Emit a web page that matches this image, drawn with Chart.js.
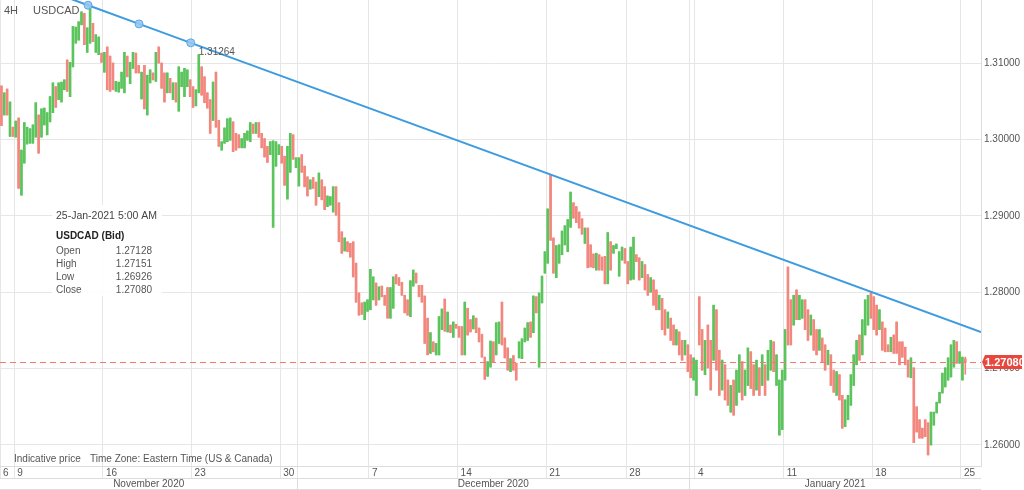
<!DOCTYPE html>
<html>
<head>
<meta charset="utf-8">
<script src="https://cdn.jsdelivr.net/npm/chart.js@4.4.0/dist/chart.umd.min.js"></script>
<style>
  html, body { margin: 0; padding: 0; background: #fff; }
  #wrap { width: 1024px; height: 490px; }
</style>
</head>
<body>
<div id="wrap"><canvas id="chart" width="1024" height="490"></canvas></div>
<script>
// USDCAD 4H candles (one entry per bar, oldest first)
const opens = [
  // Nov 6
  1.3070, 1.3032, 1.3066, 1.3004, 1.3016,
  // Nov 9
  1.3003, 1.3028, 1.2927, 1.2969, 1.2994, 1.2995, 1.2995, 1.3003, 1.3032, 1.3003,
  1.3019, 1.3006, 1.3023, 1.3035, 1.3069, 1.3052, 1.3049, 1.3065, 1.3104, 1.3056,
  1.3095, 1.3126, 1.3130, 1.3150, 1.3165, 1.3114, 1.3126, 1.3152, 1.3114, 1.3111,
  1.3113,
  // Nov 16
  1.3088, 1.3121, 1.3109, 1.3100, 1.3063, 1.3062, 1.3067, 1.3061, 1.3109, 1.3073,
  1.3093, 1.3113, 1.3097, 1.3053, 1.3097, 1.3032, 1.3074, 1.3087, 1.3076, 1.3121,
  1.3100, 1.3087, 1.3061, 1.3080, 1.3052, 1.3074, 1.3037, 1.3069, 1.3056, 1.3069,
  1.3078,
  // Nov 23
  1.3069, 1.3044, 1.3061, 1.3095, 1.3082, 1.3061, 1.3052, 1.3025, 1.3088, 1.3025,
  1.2986, 1.2995, 1.2997, 1.2999, 1.3023, 1.3008, 1.3006, 1.2989, 1.2989, 1.2999,
  1.2997, 1.3020, 1.3008, 1.3022, 1.3008, 1.3001, 1.2991, 1.2980, 1.2885, 1.2965,
  1.2980,
  // Nov 30
  1.2991, 1.2978, 1.2922, 1.2957, 1.3006, 1.2963, 1.2939, 1.2980, 1.2965, 1.2951,
  1.2935, 1.2950, 1.2944, 1.2925, 1.2947, 1.2938, 1.2912, 1.2914, 1.2905, 1.2938,
  1.2917, 1.2879, 1.2854, 1.2866, 1.2864, 1.2866, 1.2838, 1.2799, 1.2786, 1.2764,
  1.2775,
  // Dec 7
  1.2777, 1.2790, 1.2812, 1.2790, 1.2808, 1.2796, 1.2806, 1.2766, 1.2779, 1.2823,
  1.2819, 1.2813, 1.2796, 1.2790, 1.2768, 1.2808, 1.2825, 1.2809, 1.2809, 1.2795,
  1.2766, 1.2720, 1.2735, 1.2718, 1.2718, 1.2751, 1.2791, 1.2748, 1.2757, 1.2741,
  1.2758,
  // Dec 14
  1.2755, 1.2755, 1.2718, 1.2779, 1.2764, 1.2752, 1.2766, 1.2753, 1.2745, 1.2715,
  1.2690, 1.2702, 1.2735, 1.2718, 1.2733, 1.2787, 1.2740, 1.2727, 1.2696, 1.2717,
  1.2707, 1.2714, 1.2713, 1.2735, 1.2737, 1.2761, 1.2747, 1.2794, 1.2702, 1.2786,
  1.2825,
  // Dec 21
  1.2838, 1.2953, 1.2871, 1.2819, 1.2838, 1.2849, 1.2862, 1.2853, 1.2885, 1.2917,
  1.2912, 1.2905, 1.2896, 1.2864, 1.2884, 1.2862, 1.2850, 1.2829, 1.2849, 1.2846,
  1.2847, 1.2811, 1.2866, 1.2851, 1.2857, 1.2821, 1.2842, 1.2857,
  // Dec 28
  1.2840, 1.2816, 1.2817, 1.2849, 1.2845, 1.2819, 1.2836, 1.2823, 1.2800, 1.2816,
  1.2803, 1.2777, 1.2792, 1.2777, 1.2753, 1.2766, 1.2757, 1.2731, 1.2748, 1.2737,
  1.2718, 1.2731, 1.2718, 1.2685,
  // Jan 4
  1.2665, 1.2794, 1.2751, 1.2692, 1.2757, 1.2737, 1.2711, 1.2777, 1.2724, 1.2672,
  1.2705, 1.2685, 1.2643, 1.2685, 1.2652, 1.2669, 1.2709, 1.2665, 1.2678, 1.2722,
  1.2705, 1.2672, 1.2701, 1.2678, 1.2705, 1.2685, 1.2698, 1.2735, 1.2678, 1.2613,
  1.2620,
  // Jan 11
  1.2685, 1.2833, 1.2790, 1.2757, 1.2803, 1.2764, 1.2766, 1.2790, 1.2777, 1.2744,
  1.2764, 1.2751, 1.2724, 1.2740, 1.2731, 1.2705, 1.2718, 1.2698, 1.2665, 1.2692,
  1.2665, 1.2624, 1.2633, 1.2652, 1.2678, 1.2705, 1.2744, 1.2718, 1.2744, 1.2757,
  1.2799,
  // Jan 18
  1.2794, 1.2783, 1.2751, 1.2761, 1.2753, 1.2731, 1.2722, 1.2744, 1.2761, 1.2735,
  1.2735, 1.2728, 1.2711, 1.2688, 1.2701, 1.2650, 1.2633, 1.2622, 1.2633, 1.2629,
  1.2600, 1.2626, 1.2642, 1.2655, 1.2668, 1.2676, 1.2685, 1.2689, 1.2702, 1.2735,
  1.2707,
  // Jan 25
  1.2685, 1.27128
];

const highs = [
  1.3070, 1.3061, 1.3066, 1.3049, 1.3016,
  1.3024, 1.3028, 1.2986, 1.3022, 1.3016, 1.3014, 1.3019, 1.3048, 1.3032, 1.3040,
  1.3041, 1.3035, 1.3056, 1.3074, 1.3069, 1.3074, 1.3075, 1.3078, 1.3104, 1.3101,
  1.3148, 1.3147, 1.3154, 1.3167, 1.3165, 1.3146, 1.3176, 1.3152, 1.3137, 1.3134,
  1.3113,
  1.3114, 1.3121, 1.3109, 1.3100, 1.3076, 1.3075, 1.3088, 1.3114, 1.3109, 1.3101,
  1.3114, 1.3113, 1.3097, 1.3088, 1.3097, 1.3084, 1.3091, 1.3087, 1.3114, 1.3121,
  1.3100, 1.3087, 1.3087, 1.3080, 1.3074, 1.3074, 1.3095, 1.3088, 1.3093, 1.3091,
  1.3078,
  1.3069, 1.3065, 1.3111, 1.3095, 1.3082, 1.3061, 1.3052, 1.3075, 1.3088, 1.3025,
  1.2997, 1.3015, 1.3027, 1.3028, 1.3023, 1.3008, 1.3006, 1.3001, 1.3008, 1.3011,
  1.3022, 1.3020, 1.3022, 1.3022, 1.3008, 1.3001, 1.2991, 1.2997, 1.2998, 1.2997,
  1.2993,
  1.2991, 1.2978, 1.2991, 1.3008, 1.3006, 1.2976, 1.2976, 1.2980, 1.2965, 1.2951,
  1.2947, 1.2950, 1.2944, 1.2956, 1.2947, 1.2938, 1.2926, 1.2925, 1.2938, 1.2938,
  1.2917, 1.2879, 1.2871, 1.2866, 1.2864, 1.2866, 1.2838, 1.2799, 1.2786, 1.2787,
  1.2790,
  1.2830, 1.2820, 1.2812, 1.2807, 1.2808, 1.2796, 1.2806, 1.2806, 1.2820, 1.2823,
  1.2819, 1.2813, 1.2796, 1.2790, 1.2815, 1.2829, 1.2825, 1.2809, 1.2809, 1.2795,
  1.2766, 1.2747, 1.2735, 1.2733, 1.2768, 1.2778, 1.2791, 1.2774, 1.2757, 1.2761,
  1.2758,
  1.2755, 1.2755, 1.2787, 1.2779, 1.2764, 1.2769, 1.2766, 1.2753, 1.2745, 1.2715,
  1.2709, 1.2736, 1.2735, 1.2760, 1.2761, 1.2787, 1.2740, 1.2727, 1.2713, 1.2717,
  1.2707, 1.2735, 1.2739, 1.2753, 1.2760, 1.2761, 1.2795, 1.2794, 1.2799, 1.2821,
  1.2853,
  1.2909, 1.2953, 1.2871, 1.2861, 1.2862, 1.2880, 1.2887, 1.2895, 1.2931, 1.2917,
  1.2912, 1.2905, 1.2896, 1.2884, 1.2884, 1.2862, 1.2850, 1.2851, 1.2849, 1.2846,
  1.2847, 1.2878, 1.2866, 1.2861, 1.2863, 1.2853, 1.2859, 1.2857,
  1.2840, 1.2859, 1.2872, 1.2849, 1.2845, 1.2840, 1.2836, 1.2823, 1.2819, 1.2816,
  1.2803, 1.2796, 1.2792, 1.2777, 1.2774, 1.2766, 1.2757, 1.2751, 1.2748, 1.2737,
  1.2737, 1.2731, 1.2718, 1.2714,
  1.2711, 1.2794, 1.2751, 1.2737, 1.2757, 1.2737, 1.2783, 1.2777, 1.2724, 1.2711,
  1.2705, 1.2685, 1.2678, 1.2685, 1.2698, 1.2718, 1.2709, 1.2698, 1.2727, 1.2722,
  1.2705, 1.2711, 1.2701, 1.2718, 1.2705, 1.2724, 1.2737, 1.2735, 1.2718, 1.2685,
  1.2698,
  1.2751, 1.2833, 1.2790, 1.2796, 1.2803, 1.2796, 1.2790, 1.2790, 1.2777, 1.2770,
  1.2764, 1.2751, 1.2751, 1.2740, 1.2731, 1.2724, 1.2718, 1.2698, 1.2696, 1.2692,
  1.2665, 1.2659, 1.2665, 1.2692, 1.2718, 1.2737, 1.2744, 1.2764, 1.2790, 1.2796,
  1.2799,
  1.2794, 1.2783, 1.2777, 1.2761, 1.2753, 1.2731, 1.2741, 1.2744, 1.2761, 1.2735,
  1.2735, 1.2728, 1.2711, 1.2714, 1.2701, 1.2650, 1.2633, 1.2622, 1.2633, 1.2629,
  1.2643, 1.2643, 1.2656, 1.2669, 1.2694, 1.2701, 1.2714, 1.2731, 1.2737, 1.2735,
  1.2722,
  1.2715, 1.27151
];

const lows = [
  1.3018, 1.3032, 1.3032, 1.3004, 1.3004,
  1.3003, 1.2936, 1.2927, 1.2969, 1.2994, 1.2995, 1.2995, 1.3003, 1.2982, 1.3003,
  1.3019, 1.3006, 1.3023, 1.3035, 1.3042, 1.3052, 1.3049, 1.3065, 1.3063, 1.3056,
  1.3095, 1.3126, 1.3130, 1.3150, 1.3124, 1.3114, 1.3126, 1.3128, 1.3114, 1.3111,
  1.3101,
  1.3088, 1.3065, 1.3063, 1.3065, 1.3063, 1.3062, 1.3067, 1.3061, 1.3082, 1.3073,
  1.3093, 1.3087, 1.3087, 1.3053, 1.3040, 1.3032, 1.3074, 1.3078, 1.3076, 1.3100,
  1.3067, 1.3049, 1.3061, 1.3061, 1.3052, 1.3049, 1.3037, 1.3069, 1.3056, 1.3069,
  1.3056,
  1.3042, 1.3044, 1.3061, 1.3058, 1.3048, 1.3041, 1.3008, 1.3025, 1.3016, 1.2991,
  1.2986, 1.2995, 1.2997, 1.2999, 1.2984, 1.2986, 1.2989, 1.2989, 1.2989, 1.2999,
  1.2997, 1.3008, 1.3008, 1.3003, 1.2989, 1.2977, 1.2970, 1.2980, 1.2885, 1.2965,
  1.2980,
  1.2969, 1.2940, 1.2922, 1.2957, 1.2974, 1.2963, 1.2939, 1.2957, 1.2938, 1.2926,
  1.2935, 1.2936, 1.2914, 1.2925, 1.2921, 1.2908, 1.2912, 1.2914, 1.2905, 1.2901,
  1.2866, 1.2851, 1.2854, 1.2853, 1.2846, 1.2820, 1.2787, 1.2770, 1.2771, 1.2764,
  1.2775,
  1.2777, 1.2790, 1.2783, 1.2790, 1.2794, 1.2783, 1.2766, 1.2766, 1.2779, 1.2811,
  1.2809, 1.2796, 1.2773, 1.2770, 1.2768, 1.2808, 1.2812, 1.2794, 1.2787, 1.2733,
  1.2718, 1.2720, 1.2722, 1.2718, 1.2718, 1.2751, 1.2749, 1.2748, 1.2747, 1.2741,
  1.2753,
  1.2741, 1.2718, 1.2718, 1.2744, 1.2748, 1.2752, 1.2747, 1.2735, 1.2715, 1.2686,
  1.2690, 1.2702, 1.2709, 1.2718, 1.2733, 1.2731, 1.2714, 1.2698, 1.2696, 1.2698,
  1.2685, 1.2714, 1.2713, 1.2735, 1.2737, 1.2741, 1.2747, 1.2773, 1.2702, 1.2786,
  1.2825,
  1.2838, 1.2868, 1.2825, 1.2819, 1.2838, 1.2849, 1.2862, 1.2853, 1.2885, 1.2897,
  1.2891, 1.2884, 1.2876, 1.2864, 1.2832, 1.2833, 1.2832, 1.2829, 1.2829, 1.2829,
  1.2811, 1.2811, 1.2829, 1.2851, 1.2857, 1.2821, 1.2842, 1.2838,
  1.2811, 1.2816, 1.2817, 1.2840, 1.2816, 1.2819, 1.2803, 1.2796, 1.2800, 1.2783,
  1.2777, 1.2777, 1.2751, 1.2744, 1.2753, 1.2737, 1.2731, 1.2731, 1.2718, 1.2711,
  1.2718, 1.2696, 1.2688, 1.2685,
  1.2665, 1.2731, 1.2698, 1.2692, 1.2701, 1.2672, 1.2711, 1.2698, 1.2665, 1.2672,
  1.2659, 1.2652, 1.2643, 1.2639, 1.2652, 1.2669, 1.2659, 1.2665, 1.2678, 1.2674,
  1.2665, 1.2672, 1.2665, 1.2678, 1.2665, 1.2685, 1.2698, 1.2696, 1.2678, 1.2613,
  1.2620,
  1.2685, 1.2731, 1.2731, 1.2757, 1.2764, 1.2764, 1.2766, 1.2751, 1.2737, 1.2744,
  1.2724, 1.2718, 1.2724, 1.2709, 1.2698, 1.2705, 1.2678, 1.2669, 1.2665, 1.2659,
  1.2622, 1.2624, 1.2633, 1.2652, 1.2678, 1.2705, 1.2711, 1.2718, 1.2744, 1.2757,
  1.2766,
  1.2751, 1.2744, 1.2751, 1.2724, 1.2722, 1.2722, 1.2722, 1.2720, 1.2720, 1.2705,
  1.2715, 1.2705, 1.2689, 1.2688, 1.2603, 1.2617, 1.2609, 1.2609, 1.2611, 1.2587,
  1.2600, 1.2626, 1.2642, 1.2655, 1.2668, 1.2676, 1.2685, 1.2689, 1.2702, 1.2707,
  1.2707,
  1.2685, 1.26926
];

const closes = [
  1.3018, 1.3061, 1.3032, 1.3049, 1.3004,
  1.3024, 1.2936, 1.2986, 1.3022, 1.3016, 1.3014, 1.3019, 1.3048, 1.2982, 1.3040,
  1.3041, 1.3035, 1.3056, 1.3074, 1.3042, 1.3074, 1.3075, 1.3078, 1.3063, 1.3101,
  1.3148, 1.3147, 1.3154, 1.3167, 1.3124, 1.3146, 1.3176, 1.3128, 1.3137, 1.3134,
  1.3101,
  1.3114, 1.3065, 1.3063, 1.3065, 1.3076, 1.3075, 1.3088, 1.3114, 1.3082, 1.3101,
  1.3114, 1.3087, 1.3087, 1.3088, 1.3040, 1.3084, 1.3091, 1.3078, 1.3114, 1.3100,
  1.3067, 1.3049, 1.3087, 1.3061, 1.3074, 1.3049, 1.3095, 1.3088, 1.3093, 1.3091,
  1.3056,
  1.3042, 1.3065, 1.3111, 1.3058, 1.3048, 1.3041, 1.3008, 1.3075, 1.3016, 1.2991,
  1.2997, 1.3015, 1.3027, 1.3028, 1.2984, 1.2986, 1.2989, 1.3001, 1.3008, 1.3011,
  1.3022, 1.3008, 1.3022, 1.3003, 1.2989, 1.2977, 1.2970, 1.2997, 1.2998, 1.2997,
  1.2993,
  1.2969, 1.2940, 1.2991, 1.3008, 1.2974, 1.2976, 1.2976, 1.2957, 1.2938, 1.2926,
  1.2947, 1.2936, 1.2914, 1.2956, 1.2921, 1.2908, 1.2926, 1.2925, 1.2938, 1.2901,
  1.2866, 1.2851, 1.2871, 1.2853, 1.2846, 1.2820, 1.2787, 1.2770, 1.2771, 1.2787,
  1.2790,
  1.2830, 1.2820, 1.2783, 1.2807, 1.2794, 1.2783, 1.2766, 1.2806, 1.2820, 1.2811,
  1.2809, 1.2796, 1.2773, 1.2770, 1.2815, 1.2829, 1.2812, 1.2794, 1.2787, 1.2733,
  1.2718, 1.2747, 1.2722, 1.2733, 1.2768, 1.2778, 1.2749, 1.2774, 1.2747, 1.2761,
  1.2753,
  1.2741, 1.2718, 1.2787, 1.2744, 1.2748, 1.2769, 1.2747, 1.2735, 1.2715, 1.2686,
  1.2709, 1.2736, 1.2709, 1.2760, 1.2761, 1.2731, 1.2714, 1.2698, 1.2713, 1.2698,
  1.2685, 1.2735, 1.2739, 1.2753, 1.2760, 1.2741, 1.2795, 1.2773, 1.2799, 1.2821,
  1.2853,
  1.2909, 1.2868, 1.2825, 1.2861, 1.2862, 1.2880, 1.2887, 1.2895, 1.2931, 1.2897,
  1.2891, 1.2884, 1.2876, 1.2884, 1.2832, 1.2833, 1.2832, 1.2851, 1.2829, 1.2829,
  1.2811, 1.2878, 1.2829, 1.2861, 1.2863, 1.2853, 1.2859, 1.2838,
  1.2811, 1.2859, 1.2872, 1.2840, 1.2816, 1.2840, 1.2803, 1.2796, 1.2819, 1.2783,
  1.2777, 1.2796, 1.2751, 1.2744, 1.2774, 1.2737, 1.2731, 1.2751, 1.2718, 1.2711,
  1.2737, 1.2696, 1.2688, 1.2714,
  1.2711, 1.2731, 1.2698, 1.2737, 1.2701, 1.2672, 1.2783, 1.2698, 1.2665, 1.2711,
  1.2659, 1.2652, 1.2678, 1.2639, 1.2698, 1.2718, 1.2659, 1.2698, 1.2727, 1.2674,
  1.2665, 1.2711, 1.2665, 1.2718, 1.2665, 1.2724, 1.2737, 1.2696, 1.2718, 1.2685,
  1.2698,
  1.2751, 1.2731, 1.2731, 1.2796, 1.2764, 1.2796, 1.2790, 1.2751, 1.2737, 1.2770,
  1.2724, 1.2718, 1.2751, 1.2709, 1.2698, 1.2724, 1.2678, 1.2669, 1.2696, 1.2659,
  1.2622, 1.2659, 1.2665, 1.2692, 1.2718, 1.2737, 1.2711, 1.2764, 1.2790, 1.2796,
  1.2766,
  1.2751, 1.2744, 1.2777, 1.2724, 1.2722, 1.2722, 1.2741, 1.2720, 1.2720, 1.2705,
  1.2715, 1.2705, 1.2689, 1.2714, 1.2603, 1.2617, 1.2609, 1.2609, 1.2611, 1.2587,
  1.2643, 1.2643, 1.2656, 1.2669, 1.2694, 1.2701, 1.2714, 1.2731, 1.2737, 1.2707,
  1.2722,
  1.2715, 1.27080
];

// x axis: bar index where each week (and month) begins
const weekStarts = [0, 5, 36, 67, 98, 104, 129, 160, 191, 219, 241, 243, 274, 305, 336];
const weekLabels = ['6', '9', '16', '23', '30', '', '7', '14', '21', '28', '', '4', '11', '18', '25'];
const monthNames = ['November 2020', 'December 2020', 'January 2021'];
const monthStarts = [0, 104, 241];
const slotCount = 343;   // bars plus empty room on the right

const yTicks = [1.26, 1.27, 1.28, 1.29, 1.30, 1.31];

// drawn trend line (bar index, price); middle three are the handles
const trendIdx = [23.3, 30.3, 48.1, 66.2, 342.5];
const trendPrice = [1.31852, 1.31756, 1.31512, 1.31264, 1.27477];

const UP = '#5cc45c';
const DOWN = '#f2877e';
const FONT = '"Liberation Sans", Arial, sans-serif';
const lastClose = closes[closes.length - 1];
const colors = opens.map((o, i) => (closes[i] >= o ? UP : DOWN));

Chart.defaults.font.family = FONT;

const overlay = {
  id: 'overlay',
  afterDraw(chart) {
    const { ctx, chartArea: ca, scales: { x, y } } = chart;
    const last = opens.length - 1;
    ctx.save();

    // month band under the date row
    const bandTop = ca.bottom + 12;
    ctx.strokeStyle = '#dcdcdc';
    ctx.lineWidth = 1;
    ctx.beginPath();
    ctx.moveTo(ca.left, bandTop + 0.5);
    ctx.lineTo(ca.right, bandTop + 0.5);
    ctx.moveTo(ca.left, chart.height - 0.5);
    ctx.lineTo(ca.right, chart.height - 0.5);
    monthStarts.forEach(m => {
      if (m === 0) return;
      const px = Math.round(x.getPixelForValue(m - 0.5)) + 0.5;
      ctx.moveTo(px, bandTop);
      ctx.lineTo(px, chart.height);
    });
    ctx.stroke();
    ctx.fillStyle = '#555';
    ctx.font = '10px ' + FONT;
    ctx.textAlign = 'center';
    ctx.textBaseline = 'middle';
    monthNames.forEach((name, k) => {
      const a = x.getPixelForValue(monthStarts[k] - 0.5);
      const b = k + 1 < monthStarts.length ? x.getPixelForValue(monthStarts[k + 1] - 0.5) : ca.right;
      ctx.fillText(name, (a + b) / 2, bandTop + 6.5);
    });

    // footnote inside the plot
    ctx.textAlign = 'left';
    ctx.fillText('Indicative price', ca.left + 14, ca.bottom - 7);
    ctx.fillText('Time Zone: Eastern Time (US & Canada)', ca.left + 90, ca.bottom - 7);

    // header
    ctx.font = '11px ' + FONT;
    ctx.fillStyle = '#555';
    ctx.fillText('4H', ca.left + 4, 11);
    ctx.fillText('USDCAD', ca.left + 33, 11);

    // label of the third trend handle
    ctx.font = '10px ' + FONT;
    ctx.fillText(trendPrice[3].toFixed(5), x.getPixelForValue(trendIdx[3]) + 8, y.getPixelForValue(trendPrice[3]) + 9);

    // info box for the last bar
    ctx.fillStyle = 'rgba(255,255,255,0.9)';
    ctx.fillRect(ca.left + 52, 205, 110, 91);
    ctx.fillStyle = '#444';
    ctx.font = '10.5px ' + FONT;
    ctx.fillText('25-Jan-2021 5:00 AM', ca.left + 56, 216);
    ctx.fillStyle = '#222';
    ctx.font = 'bold 10px ' + FONT;
    ctx.fillText('USDCAD (Bid)', ca.left + 56, 236);
    ctx.font = '10px ' + FONT;
    ctx.fillStyle = '#555';
    const rows = [['Open', opens[last]], ['High', highs[last]], ['Low', lows[last]], ['Close', closes[last]]];
    rows.forEach((r, k) => {
      const ry = 251 + k * 13;
      ctx.textAlign = 'left';
      ctx.fillText(r[0], ca.left + 56, ry);
      ctx.textAlign = 'right';
      ctx.fillText(r[1].toFixed(5), ca.left + 152, ry);
    });

    // last price tag on the axis
    const yy = Math.round(y.getPixelForValue(lastClose));
    ctx.fillStyle = '#e8473e';
    ctx.beginPath();
    ctx.moveTo(ca.right + 1, yy);
    ctx.lineTo(ca.right + 4, yy - 7);
    ctx.lineTo(chart.width - 2, yy - 7);
    ctx.lineTo(chart.width - 2, yy + 7);
    ctx.lineTo(ca.right + 4, yy + 7);
    ctx.closePath();
    ctx.fill();
    ctx.fillStyle = '#fff';
    ctx.font = 'bold 11px ' + FONT;
    ctx.textAlign = 'left';
    ctx.fillText(lastClose.toFixed(5), ca.right + 4, yy + 0.5);
    ctx.restore();
  }
};

new Chart(document.getElementById('chart'), {
  type: 'bar',
  data: {
    datasets: [
      {
        type: 'line',
        label: 'trend',
        data: trendIdx.map((v, i) => ({ x: v, y: trendPrice[i] })),
        borderColor: '#3d9be0',
        borderWidth: 2,
        pointRadius: [0, 4, 4, 4, 0],
        pointBackgroundColor: 'rgba(150,198,242,0.9)',
        pointBorderColor: '#5aa8e6',
        pointBorderWidth: 1,
        order: 0
      },
      {
        type: 'line',
        label: 'last',
        data: [{ x: -0.5, y: lastClose }, { x: slotCount - 0.5, y: lastClose }],
        borderColor: '#f07a72',
        borderWidth: 1,
        borderDash: [6, 4],
        pointRadius: 0,
        order: 1
      },
      {
        label: 'body',
        data: opens.map((o, i) => ({ x: i, y: [o, closes[i]] })),
        backgroundColor: colors,
        barThickness: 2,
        grouped: false,
        order: 2
      },
      {
        label: 'wick',
        data: highs.map((h, i) => ({ x: i, y: [lows[i], h] })),
        backgroundColor: colors,
        barThickness: 1,
        grouped: false,
        order: 3
      }
    ]
  },
  options: {
    responsive: false,
    animation: false,
    devicePixelRatio: 1,
    layout: { padding: 0 },
    plugins: { legend: { display: false }, tooltip: { enabled: false } },
    scales: {
      x: {
        type: 'linear',
        min: -0.5,
        max: slotCount - 0.5,
        offset: false,
        grid: { color: '#e6e6e6', offset: false, tickLength: 12 },
        border: { color: '#dcdcdc' },
        ticks: {
          autoSkip: false,
          maxRotation: 0,
          align: 'start',
          padding: -11,
          labelOffset: 3,
          color: '#555',
          font: { size: 10 },
          callback: (v, i) => weekLabels[i]
        },
        afterBuildTicks: s => { s.ticks = weekStarts.map(i => ({ value: i - 0.5 })); },
        afterFit: s => { s.height = 24; s.paddingLeft = 0; s.paddingRight = 0; }
      },
      y: {
        position: 'right',
        min: 1.25725,
        max: 1.31825,
        grid: { color: '#e6e6e6', drawTicks: false },
        border: { color: '#dcdcdc' },
        ticks: {
          padding: 3,
          color: '#555',
          font: { size: 10 },
          callback: v => v.toFixed(5)
        },
        afterBuildTicks: s => { s.ticks = yTicks.map(v => ({ value: v })); },
        afterFit: s => { s.width = 43; s.paddingTop = 0; s.paddingBottom = 0; }
      }
    }
  },
  plugins: [overlay]
});
</script>
</body>
</html>
